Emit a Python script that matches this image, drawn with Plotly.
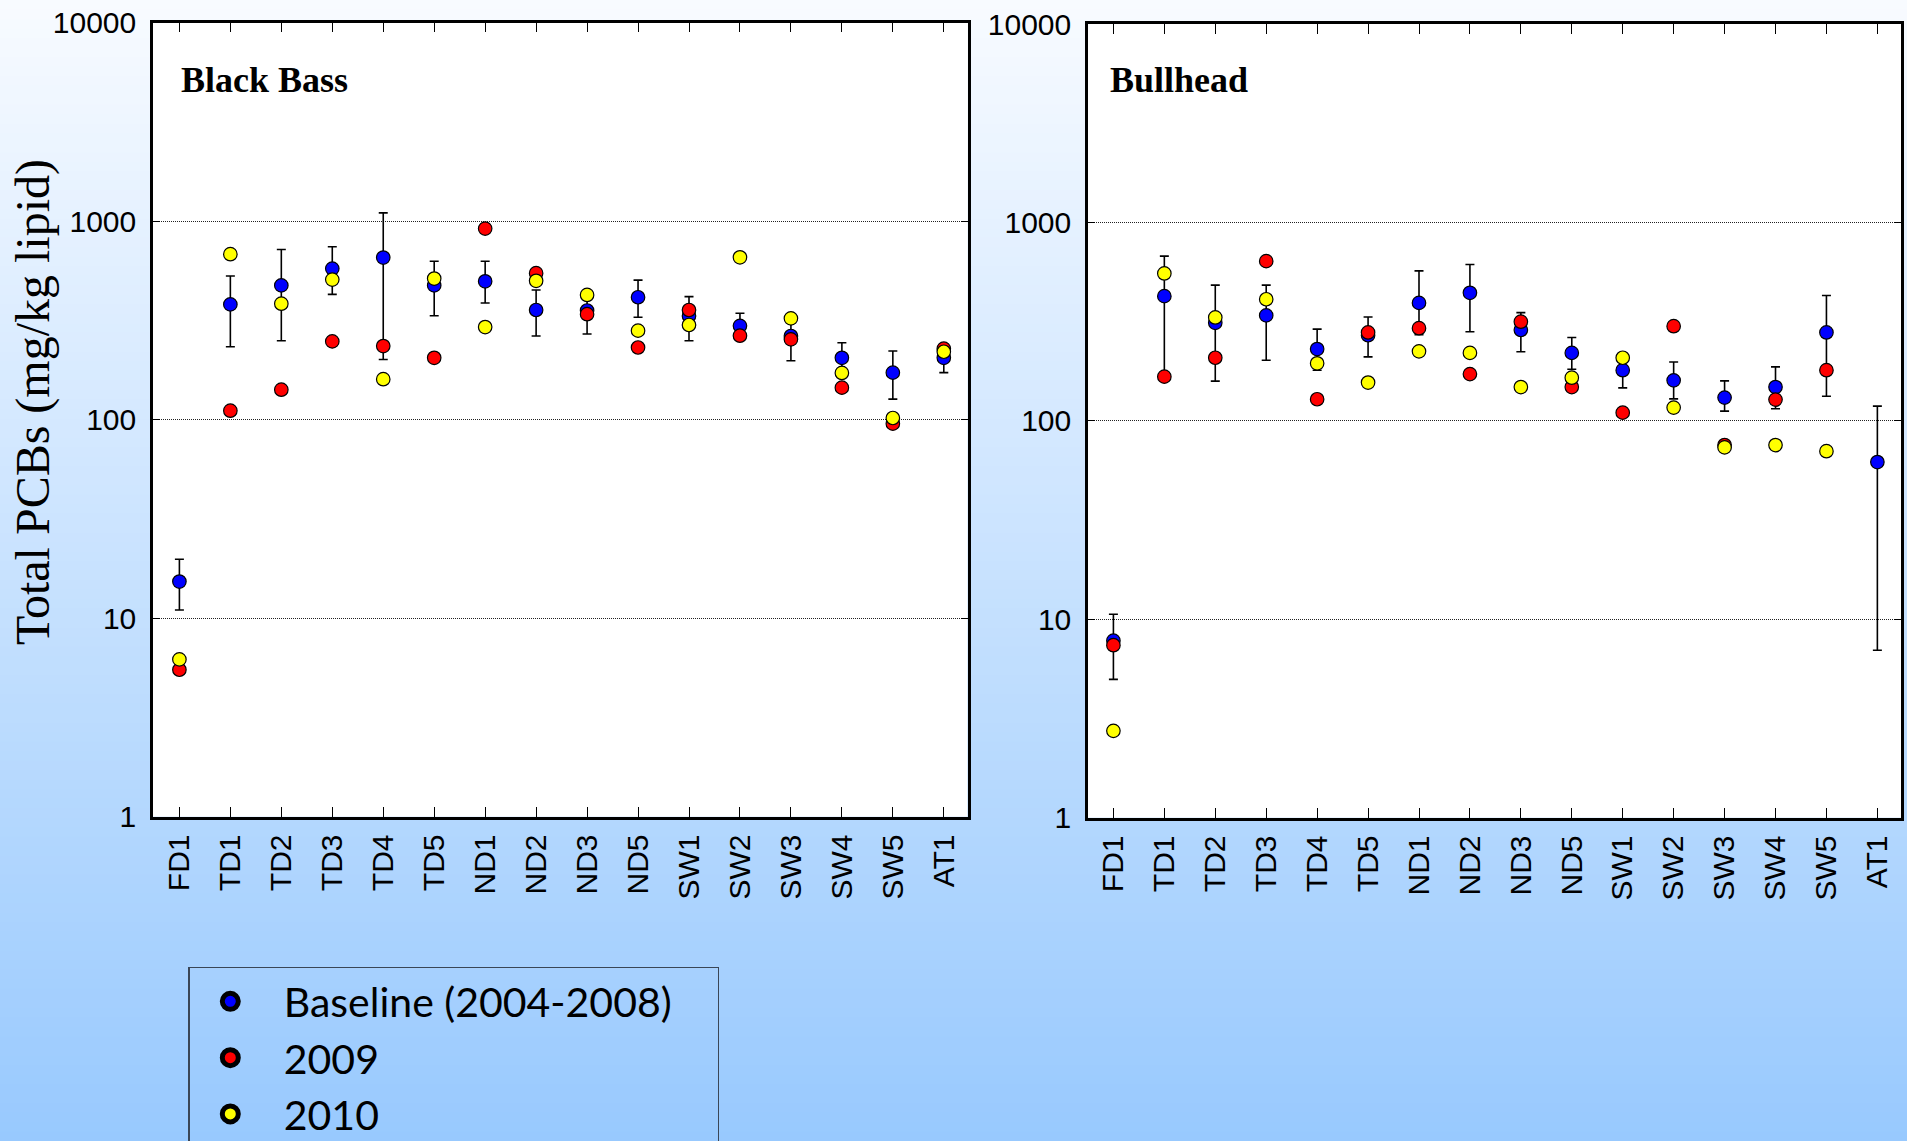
import plotly.graph_objects as go

# ---------------- data ----------------
sites = ["FD1", "TD1", "TD2", "TD3", "TD4", "TD5", "ND1", "ND2",
         "ND3", "ND5", "SW1", "SW2", "SW3", "SW4", "SW5", "AT1"]

# Black Bass
bass_base = [15.3, 381, 475, 577, 656, 475, 498, 357, 355, 414, 333, 297, 264, 205, 172.6, 205]
bass_base_lo = [11.0, 233, 250, 428, 201, 334, 387, 264, 270, 328, 250, 252, 198, 178, 127, 172.6]
bass_base_hi = [19.8, 530, 720, 743, 1102, 628, 628, 450, 440, 505, 417, 344, 330, 244, 222, 240]
bass_2009 = [5.5, 111, 141.6, 248, 235, 205, 918, 547, 340, 231, 357, 265, 254, 145, 95.5, 228]
bass_2010 = [6.2, 682, 384, 508, 160, 514, 293, 501, 425, 281, 300, 658, 324, 172, 102, 220]

# Bullhead
bull_base = [7.8, 425, 312, 340, 230, 270, 393, 442, 287, 220, 180, 160, 131, 148, 279, 62]
bull_base_lo = [4.98, 174, 158.5, 202, 180, 210, 272, 281, 223, 182, 146.6, 129, 112, 115, 133, 6.98]
bull_base_hi = [10.6, 676, 483, 483, 290, 334, 570, 614, 351, 263, 205, 198, 159, 187, 428, 118.6]
bull_2009 = [7.4, 167, 208, 638, 128.5, 279, 293, 172, 316, 148, 110, 300, 75.5, 128, 180, None]
bull_2010 = [2.74, 553, 332, 410, 195, 156, 224, 220, 148, 165, 208, 116.6, 73.5, 75.5, 70.3, None]

y_tickvals = [1, 10, 100, 1000, 10000]
y_ticktext = ["1", "10", "100", "1000", "10000"]

series_names = ["Baseline (2004-2008)\u2002\u2002", "2009", "2010"]
series_colors = ["#0000FF", "#FF0000", "#FFFF00"]

panel_titles = ["Black Bass", "Bullhead"]
y_title = "Total PCBs (mg/kg lipid)"

# ---------------- figure ----------------
W, H = 1907, 1141
fig = go.Figure()

def err(vals, lo, hi):
    plus = [h - v for v, h in zip(vals, hi)]
    minus = [v - l for v, l in zip(vals, lo)]
    return plus, minus

marker_line = dict(color="black", width=1.2)
panels = [
    ("x", "y", bass_base, bass_base_lo, bass_base_hi, bass_2009, bass_2010),
    ("x2", "y2", bull_base, bull_base_lo, bull_base_hi, bull_2009, bull_2010),
]
for xa, ya, base, lo, hi, y09, y10 in panels:
    plus, minus = err(base, lo, hi)
    fig.add_trace(go.Scatter(
        x=sites, y=base, xaxis=xa, yaxis=ya, mode="markers", showlegend=False,
        marker=dict(size=13.5, color=series_colors[0], line=marker_line),
        error_y=dict(type="data", symmetric=False, array=plus, arrayminus=minus,
                     color="black", thickness=1.6, width=4.5),
    ))
    fig.add_trace(go.Scatter(
        x=sites, y=y09, xaxis=xa, yaxis=ya, mode="markers", showlegend=False,
        marker=dict(size=13.5, color=series_colors[1], line=marker_line),
    ))
    fig.add_trace(go.Scatter(
        x=sites, y=y10, xaxis=xa, yaxis=ya, mode="markers", showlegend=False,
        marker=dict(size=13.5, color=series_colors[2], line=marker_line),
    ))

# legend-only entries
for name, col in zip(series_names, series_colors):
    fig.add_trace(go.Scatter(
        x=[None], y=[None], mode="markers", name=name, showlegend=True,
        marker=dict(size=16, color=col, line=dict(color="black", width=5)),
    ))

# ---------------- layout geometry ----------------
def px_x(p):
    return p / W

def px_y(p):
    return 1 - p / H

xdom1 = [px_x(153), px_x(967.5)]
xdom2 = [px_x(1088), px_x(1901)]
ydom1 = [px_y(816.7), px_y(22.7)]
ydom2 = [px_y(817.7), px_y(24)]

tickfont = dict(family="Liberation Sans, Arial", size=30, color="black")

xaxis_common = dict(
    type="category", categoryorder="array", categoryarray=sites,
    showline=True, linecolor="black", linewidth=2.5, mirror="ticks",
    ticks="inside", ticklen=10, tickwidth=1.3, tickcolor="black",
    tickangle=-90, tickfont=tickfont, showgrid=False, zeroline=False,
    ticklabelstandoff=3, fixedrange=True,
)
yaxis_common = dict(
    type="log", range=[0, 4], tickvals=y_tickvals, ticktext=y_ticktext,
    showline=True, linecolor="black", linewidth=2.5, mirror="ticks",
    ticks="inside", ticklen=7, tickwidth=1.3, tickcolor="black",
    tickfont=tickfont, showgrid=True, gridcolor="#222222", gridwidth=1,
    griddash="1px,1px", zeroline=False, ticklabelstandoff=8, fixedrange=True,
)

fig.update_layout(
    xaxis=dict(domain=xdom1, range=[-0.518, 15.465], anchor="y", **xaxis_common),
    yaxis=dict(domain=ydom1, anchor="x", **yaxis_common),
    xaxis2=dict(domain=xdom2, range=[-0.499, 15.464], anchor="y2", **xaxis_common),
    yaxis2=dict(domain=ydom2, anchor="x2", **yaxis_common),
)

# background gradient
top_c = (248, 251, 255)
bot_c = (152, 201, 254)
shapes = []
N = 120
for i in range(N):
    t = (i + 0.5) / N
    c = tuple(round(a + (b - a) * t) for a, b in zip(top_c, bot_c))
    shapes.append(dict(
        type="rect", xref="paper", yref="paper", layer="below",
        x0=0, x1=1, y0=1 - (i + 1) / N - 0.002, y1=1 - i / N,
        fillcolor="rgb(%d,%d,%d)" % c, line=dict(width=0),
    ))
for xr, yr in (("x domain", "y domain"), ("x2 domain", "y2 domain")):
    shapes.append(dict(type="rect", xref=xr, yref=yr, layer="below",
                       x0=0, x1=1, y0=0, y1=1, fillcolor="white",
                       line=dict(width=0)))

annotations = [
    dict(text="<b>%s</b>" % panel_titles[0], xref="paper", yref="paper",
         x=px_x(179), y=px_y(80), xanchor="left", yanchor="middle",
         showarrow=False,
         font=dict(family="Liberation Serif, Times New Roman", size=36, color="black")),
    dict(text="<b>%s</b>" % panel_titles[1], xref="paper", yref="paper",
         x=px_x(1108), y=px_y(80), xanchor="left", yanchor="middle",
         showarrow=False,
         font=dict(family="Liberation Serif, Times New Roman", size=36, color="black")),
    dict(text=y_title, xref="paper", yref="paper",
         x=px_x(33), y=px_y(402), xanchor="center", yanchor="middle",
         textangle=-90, showarrow=False,
         font=dict(family="Liberation Serif, Times New Roman", size=48, color="black")),
]

fig.update_layout(
    width=W, height=H,
    margin=dict(l=0, r=0, t=0, b=0, autoexpand=False),
    paper_bgcolor="rgb(200,226,255)",
    plot_bgcolor="white",
    shapes=shapes,
    annotations=annotations,
    showlegend=True,
    legend=dict(
        x=px_x(188.3), y=px_y(966.7), xanchor="left", yanchor="top",
        bgcolor="rgba(0,0,0,0)", bordercolor="#3a4656", borderwidth=1.5,
        font=dict(family="Lato, Noto Sans", size=41, color="black"),
        itemwidth=97, indentation=-13, tracegroupgap=0,
    ),
)

fig.write_html(
    "out.html",
    config={"displayModeBar": False},
    post_script="document.body.style.margin='0';document.body.style.overflow='hidden';",
)
